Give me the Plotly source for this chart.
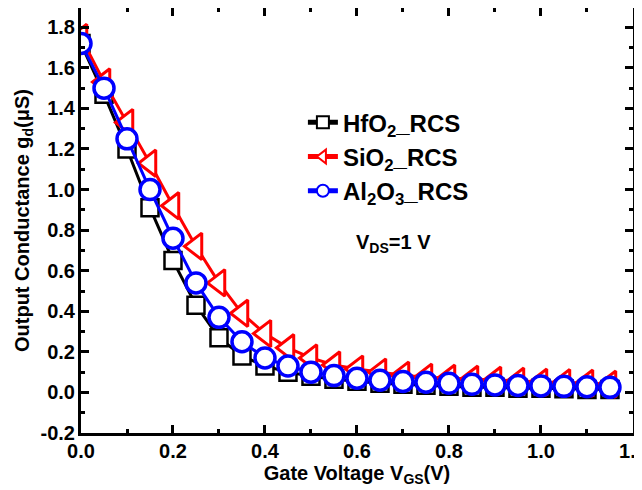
import plotly.graph_objects as go

vgs = [0.00, 0.05, 0.10, 0.15, 0.20, 0.25, 0.30, 0.35, 0.40, 0.45, 0.50, 0.55,
       0.60, 0.65, 0.70, 0.75, 0.80, 0.85, 0.90, 0.95, 1.00, 1.05, 1.10, 1.15]
hfo2 = [1.72, 1.47, 1.20, 0.91, 0.65, 0.43, 0.27, 0.18, 0.13, 0.10, 0.08, 0.065,
        0.055, 0.045, 0.04, 0.035, 0.03, 0.025, 0.025, 0.02, 0.02, 0.018, 0.015, 0.015]
sio2 = [1.75, 1.53, 1.33, 1.13, 0.92, 0.72, 0.54, 0.39, 0.29, 0.22, 0.17, 0.135,
        0.115, 0.10, 0.085, 0.075, 0.07, 0.065, 0.06, 0.055, 0.05, 0.048, 0.045, 0.04]
al2o3 = [1.72, 1.50, 1.25, 1.00, 0.76, 0.54, 0.37, 0.25, 0.17, 0.13, 0.10, 0.083,
         0.07, 0.06, 0.054, 0.05, 0.045, 0.04, 0.037, 0.034, 0.032, 0.03, 0.028, 0.025]

names = ["HfO<sub>2</sub>_RCS", "SiO<sub>2</sub>_RCS", "Al<sub>2</sub>O<sub>3</sub>_RCS"]

x_tickvals = [0.0, 0.2, 0.4, 0.6, 0.8, 1.0, 1.2]
x_ticktext = ["0.0", "0.2", "0.4", "0.6", "0.8", "1.0", "1.2"]
y_tickvals = [-0.2, 0.0, 0.2, 0.4, 0.6, 0.8, 1.0, 1.2, 1.4, 1.6, 1.8]
y_ticktext = ["-0.2", "0.0", "0.2", "0.4", "0.6", "0.8", "1.0", "1.2", "1.4", "1.6", "1.8"]

FONT = "Arial, Liberation Sans, sans-serif"

fig = go.Figure()
fig.add_trace(go.Scatter(x=vgs, y=hfo2, name=names[0], mode="lines+markers",
                         line=dict(color="black", width=3),
                         marker=dict(symbol="square", size=17, color="white",
                                     line=dict(color="black", width=2.5))))
fig.add_trace(go.Scatter(x=vgs, y=sio2, name=names[1], mode="lines+markers",
                         line=dict(color="#ff0000", width=3),
                         marker=dict(symbol="triangle-left", size=23, color="white",
                                     line=dict(color="#ff0000", width=3))))
fig.add_trace(go.Scatter(x=vgs, y=al2o3, name=names[2], mode="lines+markers",
                         line=dict(color="#0000ff", width=3),
                         marker=dict(symbol="circle", size=20, color="white",
                                     line=dict(color="#0000ff", width=3.5))))

fig.add_annotation(x=0.68, y=0.735, xref="x", yref="y", showarrow=False,
                   text="V<sub>DS</sub>=1 V",
                   font=dict(family=FONT, size=20, color="black", weight="bold"))

axis_common = dict(
    showline=True, linecolor="black", linewidth=3, mirror="ticks",
    ticks="inside", ticklen=8, tickwidth=3, tickcolor="black",
    showgrid=False, zeroline=False, automargin=False,
    ticklabeloverflow="allow",
    tickfont=dict(family=FONT, size=20, color="black", weight="bold"),
)

# page body adds an 8px offset, so the figure is sized to the visible area
fig.update_layout(
    width=634, height=482,
    margin=dict(l=73, r=9, t=0, b=57, autoexpand=False),
    paper_bgcolor="white", plot_bgcolor="white",
    showlegend=True,
    legend=dict(x=0.402, y=0.783, xanchor="left", yanchor="top",
                bgcolor="rgba(0,0,0,0)", borderwidth=0,
                font=dict(family=FONT, size=24, color="black", weight="bold"),
                tracegroupgap=0, itemsizing="constant"),
    font=dict(family=FONT, color="black"),
)
fig.update_xaxes(range=[0, 1.2001], tickvals=x_tickvals, ticktext=x_ticktext,
                 ticklabelstandoff=-2,
                 minor=dict(dtick=0.1, ticks="inside", ticklen=4, tickwidth=3, tickcolor="black"),
                 title=dict(text="Gate Voltage V<sub>GS</sub>(V)", standoff=2,
                            font=dict(family=FONT, size=20, color="black", weight="bold")),
                 **axis_common)
fig.update_yaxes(range=[-0.2, 1.895], tickvals=y_tickvals, ticktext=y_ticktext,
                 ticklabelstandoff=-1,
                 minor=dict(dtick=0.1, ticks="inside", ticklen=4, tickwidth=3, tickcolor="black"),
                 title=dict(text="Output Conductance g<sub>d</sub>(μS)", standoff=6,
                            font=dict(family=FONT, size=20, color="black", weight="bold")),
                 **axis_common)

fig.write_html("out.html")
